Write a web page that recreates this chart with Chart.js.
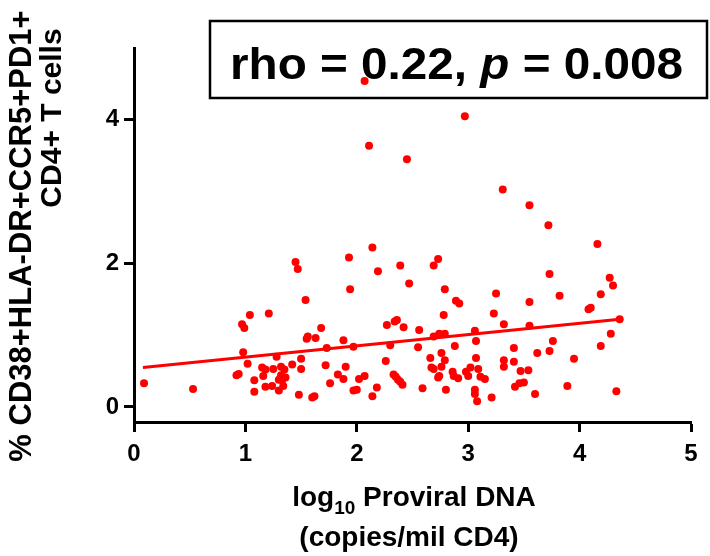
<!DOCTYPE html>
<html>
<head>
<meta charset="utf-8">
<script src="https://cdn.jsdelivr.net/npm/chart.js@4.4.1/dist/chart.umd.min.js"></script>
<style>
  html, body { margin: 0; padding: 0; background: #fff; }
  #wrap { width: 710px; height: 556px; }
</style>
</head>
<body>
<div id="wrap"><canvas id="c" width="710" height="556"></canvas></div>
<script>
// log10 proviral DNA (x) vs % CD38+HLA-DR+CCR5+PD1+ CD4+ T cells (y)
const proviral = [
  0.09, 0.53, 1.04, 0.97, 0.99, 0.98, 1.02, 0.92, 0.94, 1.08,
  1.08, 1.21, 1.45, 1.47, 1.54, 1.68, 1.55, 1.56, 1.63, 1.88,
  1.73, 1.97, 1.28, 1.50, 1.50, 1.42, 1.15, 1.18, 1.25, 1.32,
  1.35, 1.16, 1.32, 1.36, 1.30, 1.34, 1.30, 1.18, 1.24, 1.72,
  1.83, 1.88, 1.90, 1.76, 2.02, 2.07, 1.97, 2.00, 2.18, 1.48,
  1.60, 1.62, 2.14, 1.94, 1.93, 2.14, 2.19, 2.39, 2.47, 2.07,
  2.11, 2.45, 2.97, 3.31, 3.55, 3.72, 4.16, 2.73, 2.69, 3.73,
  4.27, 4.30, 2.79, 2.89, 2.92, 3.25, 3.23, 2.78, 2.27, 2.34,
  2.36, 2.42, 2.56, 2.30, 2.55, 2.69, 2.74, 2.79, 3.06, 3.07,
  2.88, 3.32, 2.26, 2.76, 2.79, 2.76, 2.66, 2.67, 2.69, 2.74,
  2.73, 2.86, 2.87, 2.91, 2.98, 3.00, 3.02, 3.07, 3.09, 3.11,
  3.15, 3.32, 3.32, 2.33, 2.35, 2.37, 2.39, 2.41, 2.59, 2.80,
  3.06, 3.06, 3.08, 3.21, 3.55, 3.82, 4.19, 4.08, 4.10, 3.55,
  4.36, 4.28, 3.76, 4.19, 3.41, 3.62, 3.73, 3.95, 3.41, 3.47,
  3.54, 3.46, 3.50, 3.42, 3.60, 3.89, 4.33, 1.33,
];
const activated = [
  0.33, 0.25, 1.28, 1.15, 1.10, 0.76, 0.60, 0.44, 0.46, 0.37,
  0.21, 1.30, 2.02, 1.92, 1.49, 1.10, 0.95, 0.98, 0.96, 0.93,
  0.82, 0.84, 0.70, 0.67, 0.53, 0.59, 0.55, 0.52, 0.53, 0.56,
  0.52, 0.43, 0.44, 0.41, 0.38, 0.29, 0.23, 0.28, 0.29, 0.58,
  0.45, 0.39, 0.56, 0.33, 0.39, 0.43, 0.23, 0.24, 0.27, 0.17,
  0.13, 0.15, 0.15, 1.64, 2.08, 2.22, 1.89, 1.97, 1.72, 4.54,
  3.64, 3.45, 4.05, 3.03, 2.81, 2.53, 2.27, 2.06, 1.97, 1.85,
  1.80, 1.69, 1.64, 1.48, 1.44, 1.58, 1.30, 1.28, 1.14, 1.19,
  1.21, 1.11, 1.07, 0.86, 0.83, 0.98, 1.02, 1.02, 1.06, 0.92,
  0.85, 1.15, 0.64, 0.75, 0.65, 0.56, 0.68, 0.55, 0.53, 0.43,
  0.41, 0.49, 0.43, 0.40, 0.49, 0.43, 0.55, 0.68, 0.53, 0.42,
  0.39, 0.65, 0.56, 0.45, 0.42, 0.38, 0.35, 0.31, 0.26, 0.24,
  0.24, 0.18, 0.08, 0.13, 1.46, 1.55, 1.57, 1.36, 1.38, 1.13,
  1.22, 1.02, 0.92, 0.85, 0.82, 0.75, 0.78, 0.67, 0.63, 0.50,
  0.51, 0.33, 0.34, 0.28, 0.18, 0.29, 0.22, 0.37,
];
// fitted line end points
const fitX = [0.08, 4.36];
const fitY = [0.55, 1.22];
const xTicks = [0, 1, 2, 3, 4, 5];
const yTicks = [0, 2, 4];

const RED = "#ff0000";
const FONT = '"Liberation Sans", Arial, sans-serif';

const points = proviral.map((x, i) => ({ x, y: activated[i] }));
const fit = fitX.map((x, i) => ({ x, y: fitY[i] }));

const textPlugin = {
  id: "texts",
  afterDraw(chart) {
    const ctx = chart.ctx;
    ctx.save();
    ctx.fillStyle = "#000";
    ctx.strokeStyle = "#000";

    // stats box
    ctx.lineWidth = 2.5;
    ctx.strokeRect(210, 21, 497, 77);
    const parts = [
      ["rho = 0.22, ", "bold"],
      ["p", "italic bold"],
      [" = 0.008", "bold"],
    ];
    let total = 0;
    parts.forEach(([t, s]) => {
      ctx.font = `${s} 44px ${FONT}`;
      total += ctx.measureText(t).width;
    });
    const sx = 453 / total;
    ctx.save();
    ctx.translate(230, 79);
    ctx.scale(sx, 1);
    ctx.textBaseline = "alphabetic";
    let cx = 0;
    parts.forEach(([t, s]) => {
      ctx.font = `${s} 44px ${FONT}`;
      ctx.fillText(t, cx, 0);
      cx += ctx.measureText(t).width;
    });
    ctx.restore();

    // x title
    const main = `bold 28px ${FONT}`;
    const sub = `bold 19px ${FONT}`;
    ctx.textBaseline = "alphabetic";
    ctx.font = main;
    const w1 = ctx.measureText("log").width;
    const w3 = ctx.measureText(" Proviral DNA").width;
    ctx.font = sub;
    const w2 = ctx.measureText("10").width;
    let x0 = 414 - (w1 + w2 + w3) / 2;
    ctx.font = main;
    ctx.fillText("log", x0, 506);
    ctx.font = sub;
    ctx.fillText("10", x0 + w1, 514);
    ctx.font = main;
    ctx.fillText(" Proviral DNA", x0 + w1 + w2, 506);
    ctx.textAlign = "center";
    ctx.fillText("(copies/mil CD4)", 409, 546);

    // y title
    ctx.save();
    ctx.translate(22, 236);
    ctx.rotate(-Math.PI / 2);
    ctx.font = `bold 31px ${FONT}`;
    ctx.textBaseline = "middle";
    ctx.textAlign = "center";
    ctx.fillText("% CD38+HLA-DR+CCR5+PD1+", 0, 0);
    ctx.restore();
    ctx.save();
    ctx.translate(53, 118);
    ctx.rotate(-Math.PI / 2);
    ctx.font = `bold 30px ${FONT}`;
    ctx.textBaseline = "middle";
    ctx.textAlign = "center";
    ctx.fillText("CD4+ T cells", 0, 0);
    ctx.restore();

    ctx.restore();
  },
};

new Chart(document.getElementById("c"), {
  type: "scatter",
  data: {
    datasets: [
      {
        data: points,
        backgroundColor: RED,
        borderColor: RED,
        pointRadius: 4,
        pointBorderWidth: 0,
        clip: false,
      },
      {
        type: "line",
        data: fit,
        borderColor: RED,
        borderWidth: 3,
        pointRadius: 0,
        fill: false,
        clip: false,
      },
    ],
  },
  options: {
    responsive: false,
    animation: false,
    events: [],
    layout: { padding: { top: 48, right: 19, left: 0, bottom: 0 } },
    plugins: { legend: { display: false }, tooltip: { enabled: false } },
    scales: {
      x: {
        type: "linear",
        min: 0,
        max: 5,
        afterFit: (s) => { s.height = 134; },
        afterBuildTicks: (s) => { s.ticks = xTicks.map((v) => ({ value: v })); },
        grid: { drawOnChartArea: false, drawTicks: true, tickLength: 10, tickWidth: 3, tickColor: "#000" },
        border: { display: true, width: 3, color: "#000" },
        ticks: { color: "#000", padding: 8, font: { family: FONT, size: 24, weight: "bold" } },
      },
      y: {
        type: "linear",
        min: -0.21,
        max: 5,
        afterFit: (s) => { s.width = 134; },
        afterBuildTicks: (s) => { s.ticks = yTicks.map((v) => ({ value: v })); },
        grid: { drawOnChartArea: false, drawTicks: true, tickLength: 10, tickWidth: 3, tickColor: "#000" },
        border: { display: true, width: 3, color: "#000" },
        ticks: { color: "#000", padding: 5, font: { family: FONT, size: 24, weight: "bold" } },
      },
    },
  },
  plugins: [textPlugin],
});
</script>
</body>
</html>
